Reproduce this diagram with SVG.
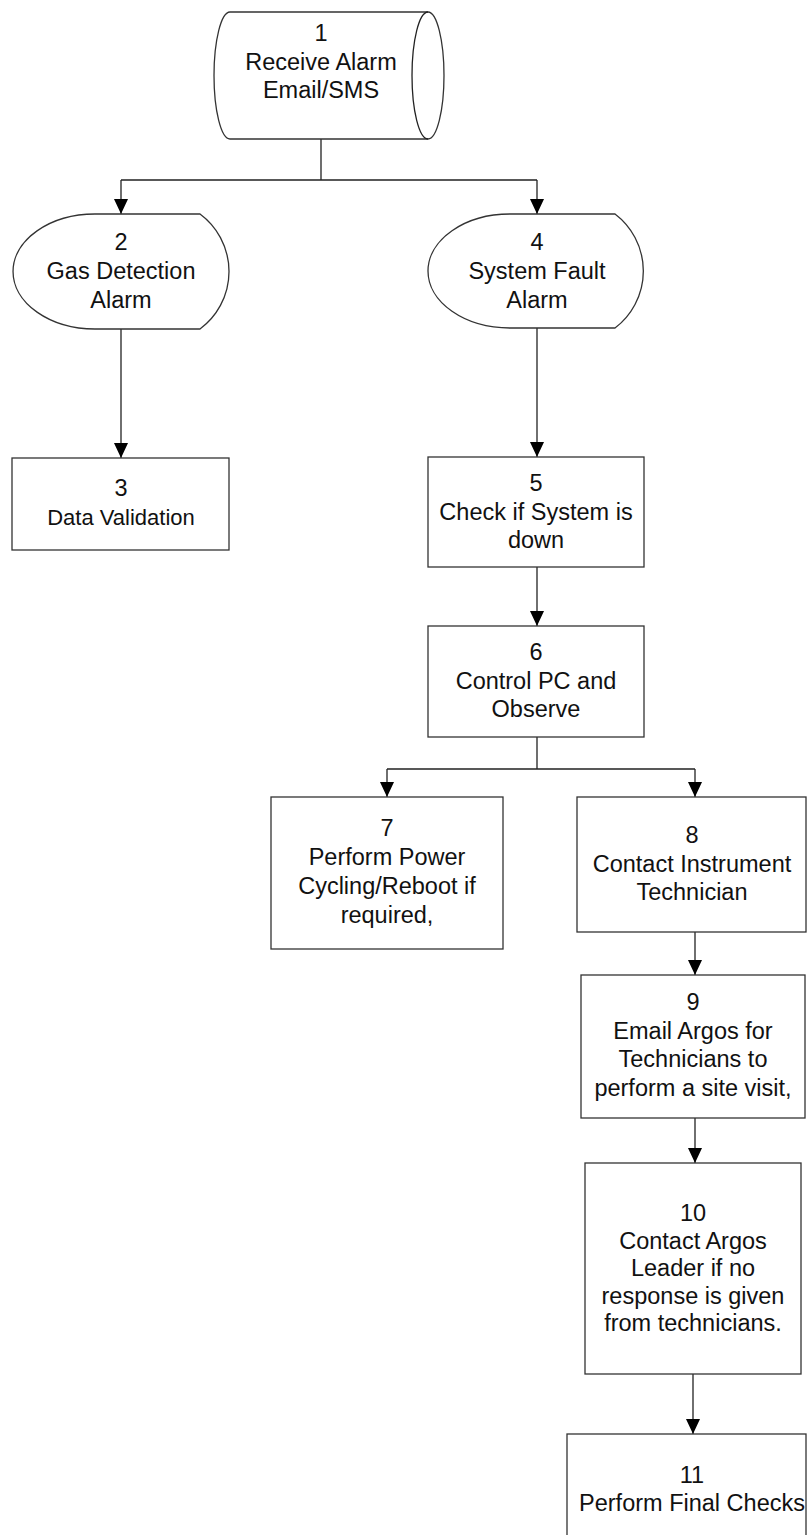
<svg xmlns="http://www.w3.org/2000/svg" width="807" height="1535" viewBox="0 0 807 1535">
<defs>
<style>
.n{fill:#ffffff;stroke:#333333;stroke-width:1.3}
.c{fill:none;stroke:#222222;stroke-width:1.3}
.t{font-family:"Liberation Sans",Arial,sans-serif;font-size:23.5px;fill:#111111;text-anchor:middle}
</style>
<marker id="ah" markerUnits="userSpaceOnUse" markerWidth="15" markerHeight="14" refX="15" refY="7" orient="auto" viewBox="0 0 15 14">
<path d="M0,0 L15,7 L0,14 Z" fill="#000000"/>
</marker>
</defs>
<rect width="807" height="1535" fill="#ffffff"/>
<g id="connectors">
<path class="c" d="M321,139 V180 M121,180 H537"/>
<path class="c" d="M121,180 V214" marker-end="url(#ah)"/>
<path class="c" d="M537,180 V214" marker-end="url(#ah)"/>
<path class="c" d="M121,329 V458" marker-end="url(#ah)"/>
<path class="c" d="M537,328 V457" marker-end="url(#ah)"/>
<path class="c" d="M537,567 V626" marker-end="url(#ah)"/>
<path class="c" d="M537,737 V769 M387,769 H695"/>
<path class="c" d="M387,769 V797" marker-end="url(#ah)"/>
<path class="c" d="M695,769 V797" marker-end="url(#ah)"/>
<path class="c" d="M695,932 V975" marker-end="url(#ah)"/>
<path class="c" d="M695,1118 V1163" marker-end="url(#ah)"/>
<path class="c" d="M693,1374 V1434" marker-end="url(#ah)"/>
</g>
<g id="node1">
<path class="n" d="M230,12 H428 A16,63.5 0 0 1 428,139 H230 A16,63.5 0 0 1 230,12 Z"/>
<path class="c" d="M428,12 A16,63.5 0 0 0 428,139"/>
<text class="t" x="321" y="41">1</text>
<text class="t" x="321" y="70">Receive Alarm</text>
<text class="t" x="321" y="98">Email/SMS</text>
</g>
<g id="node2">
<path class="n" d="M95,214 H200 A71.5,71.5 0 0 1 200,329 H95 A82,57.5 0 0 1 95,214 Z"/>
<text class="t" x="121" y="250">2</text>
<text class="t" x="121" y="279">Gas Detection</text>
<text class="t" x="121" y="308">Alarm</text>
</g>
<g id="node3">
<rect class="n" x="12" y="458" width="217" height="92"/>
<text class="t" x="121" y="496">3</text>
<text class="t" x="121" y="525" style="font-size:22px">Data Validation</text>
</g>
<g id="node4">
<path class="n" d="M510,214 H615 A71.5,71.5 0 0 1 615,328 H510 A82,57 0 0 1 510,214 Z"/>
<text class="t" x="537" y="250">4</text>
<text class="t" x="537" y="279">System Fault</text>
<text class="t" x="537" y="308">Alarm</text>
</g>
<g id="node5">
<rect class="n" x="428" y="457" width="216" height="110"/>
<text class="t" x="536" y="491">5</text>
<text class="t" x="536" y="520">Check if System is</text>
<text class="t" x="536" y="548">down</text>
</g>
<g id="node6">
<rect class="n" x="428" y="626" width="216" height="111"/>
<text class="t" x="536" y="660">6</text>
<text class="t" x="536" y="689">Control PC and</text>
<text class="t" x="536" y="717">Observe</text>
</g>
<g id="node7">
<rect class="n" x="271" y="797" width="232" height="152"/>
<text class="t" x="387" y="836">7</text>
<text class="t" x="387" y="865">Perform Power</text>
<text class="t" x="387" y="894">Cycling/Reboot if</text>
<text class="t" x="387" y="923">required,</text>
</g>
<g id="node8">
<rect class="n" x="577" y="797" width="229" height="135"/>
<text class="t" x="692" y="843">8</text>
<text class="t" x="692" y="872">Contact Instrument</text>
<text class="t" x="692" y="900">Technician</text>
</g>
<g id="node9">
<rect class="n" x="581" y="975" width="224" height="143"/>
<text class="t" x="693" y="1010">9</text>
<text class="t" x="693" y="1039">Email Argos for</text>
<text class="t" x="693" y="1067">Technicians to</text>
<text class="t" x="693" y="1096">perform a site visit,</text>
</g>
<g id="node10">
<rect class="n" x="585" y="1163" width="216" height="211"/>
<text class="t" x="693" y="1221">10</text>
<text class="t" x="693" y="1249">Contact Argos</text>
<text class="t" x="693" y="1276">Leader if no</text>
<text class="t" x="693" y="1304">response is given</text>
<text class="t" x="693" y="1331">from technicians.</text>
</g>
<g id="node11">
<rect class="n" x="567" y="1434" width="239" height="120"/>
<text class="t" x="692" y="1483">11</text>
<text class="t" x="692" y="1511">Perform Final Checks</text>
</g>
</svg>
